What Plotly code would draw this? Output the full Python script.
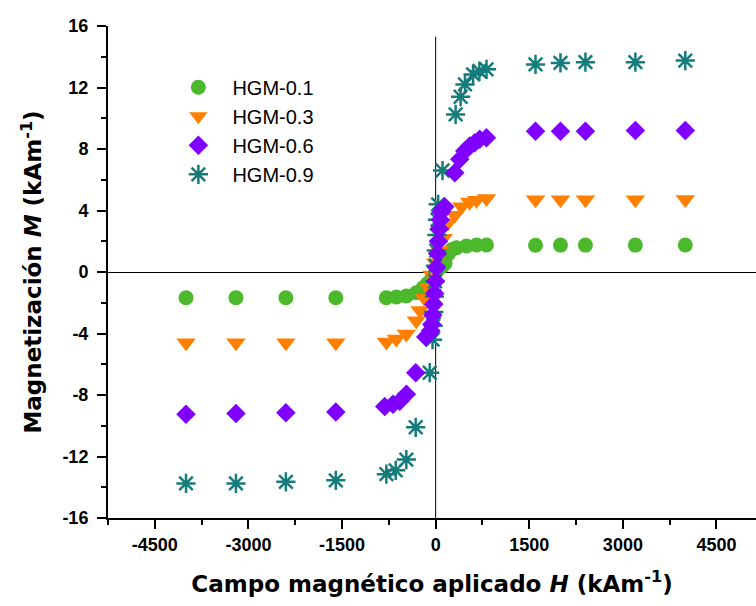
import plotly.graph_objects as go

# Magnetization curves M(H) of the HGM samples (H and M in kA/m)
h_01 = [-4000, -3200, -2400, -1600, -790, -630, -470, -310, -200, -130, -60, 0, 60, 110,
        150, 200, 255, 335, 495, 655, 815, 1600, 2000, 2400, 3200, 4000]
m_01 = [-1.67, -1.67, -1.67, -1.67, -1.67, -1.63, -1.56, -1.35, -1.02, -0.75, -0.4, -0.05, 0.25, 0.4,
        0.55, 1.15, 1.45, 1.58, 1.69, 1.76, 1.76, 1.74, 1.75, 1.75, 1.75, 1.76]

h_03 = [-4000, -3200, -2400, -1600, -790, -630, -470, -310, -250, -180, -120, -60, 0, 60,
        120, 200, 305, 415, 545, 655, 815, 1600, 2000, 2400, 3200, 4000]
m_03 = [-4.6, -4.6, -4.6, -4.6, -4.55, -4.36, -4.04, -3.17, -2.5, -1.7, -1.0, -0.2, 0.6, 1.4,
        2.2, 3.2, 3.69, 4.24, 4.56, 4.67, 4.78, 4.7, 4.7, 4.7, 4.7, 4.71]

h_06 = [-4000, -3200, -2400, -1600, -816, -683, -575, -468, -319, -159,
        -100, -80, -60, -45, -30, -15, 0, 15, 30, 45, 60, 75, 90, 110,
        146, 306, 386, 466, 546, 626, 706, 814, 1600, 2000, 2400, 3200, 4000]
m_06 = [-9.25, -9.2, -9.15, -9.1, -8.75, -8.6, -8.4, -7.95, -6.55, -4.23,
        -4.0, -3.8, -3.4, -2.8, -2.1, -1.4, -0.6, 0.3, 1.2, 2.0, 2.8, 3.4, 3.9, 4.1,
        4.25, 6.46, 7.33, 7.87, 8.2, 8.41, 8.63, 8.73, 9.15, 9.15, 9.15, 9.2, 9.2]

h_09 = [-4000, -3200, -2400, -1600, -790, -640, -470, -320, -95,
        -50, -40, -30, -20, -10, 0, 10, 20, 30, 40,
        110, 320, 400, 470, 600, 700, 815, 1600, 2000, 2400, 3200, 4000]
m_09 = [-13.75, -13.75, -13.65, -13.55, -13.15, -12.9, -12.2, -10.1, -6.55,
        -4.4, -3.5, -2.6, -1.6, -0.6, 0.4, 1.4, 2.4, 3.4, 4.4,
        6.6, 10.25, 11.4, 12.2, 12.85, 13.07, 13.18, 13.5, 13.6, 13.65, 13.65, 13.75]

x_ticks = [-4500, -3000, -1500, 0, 1500, 3000, 4500]
y_ticks = [-16, -12, -8, -4, 0, 4, 8, 12, 16]

series = [
    # name, H, M, symbol, colour, size, legend rank
    ("HGM-0.1", h_01, m_01, "circle", "#4cb82c", 15, 1),
    ("HGM-0.3", h_03, m_03, "triangle-down", "#ff8000", 17, 2),
    ("HGM-0.9", h_09, m_09, "asterisk-open", "#167b7b", 16, 4),
    ("HGM-0.6", h_06, m_06, "diamond", "#7f00ff", 15, 3),
]

fig = go.Figure()
for name, h, m, sym, col, size, rank in series:
    marker = dict(symbol=sym, size=size, color=col)
    if sym.endswith("open"):
        marker["line"] = dict(color=col, width=2.5)
    else:
        marker["line"] = dict(width=0)
    fig.add_trace(go.Scatter(x=h, y=m, mode="markers", name=name,
                             marker=marker, legendrank=rank))

# vertical reference line through H = 0
fig.add_shape(type="line", xref="x", yref="y", x0=0, x1=0, y0=-16, y1=15.3,
              line=dict(color="black", width=1), layer="below")

tick_font = dict(family="Liberation Sans, Arial, sans-serif", size=18, color="black", weight="bold")
title_font = dict(family="DejaVu Sans, Verdana, sans-serif", size=23, color="black", weight="bold")

fig.update_layout(
    width=756, height=606,
    margin=dict(l=108, r=0, t=26, b=88),
    paper_bgcolor="white", plot_bgcolor="white",
    showlegend=True,
    legend=dict(x=0.087, y=0.915, xanchor="left", yanchor="top",
                bgcolor="rgba(0,0,0,0)", borderwidth=0, itemwidth=58,
                font=dict(family="Liberation Sans, Arial, sans-serif", size=20, color="black")),
    xaxis=dict(
        range=[-5250, 5133], tickvals=x_ticks, ticktext=[str(v) for v in x_ticks],
        ticks="outside", ticklen=9, tickwidth=1.5, tickcolor="black",
        minor=dict(dtick=750, tick0=0, ticks="outside", ticklen=5, tickwidth=1.5, tickcolor="black"),
        showline=True, linewidth=2, linecolor="black", mirror=False,
        showgrid=False, zeroline=False,
        tickfont=tick_font,
        title=dict(text="Campo magnético aplicado <i>H</i> (kAm<sup>-1</sup>)", font=title_font, standoff=22),
    ),
    yaxis=dict(
        range=[-16, 16], tickvals=y_ticks, ticktext=[str(v) for v in y_ticks],
        ticks="outside", ticklen=9, tickwidth=1.5, tickcolor="black",
        minor=dict(dtick=2, tick0=0, ticks="outside", ticklen=5, tickwidth=1.5, tickcolor="black"),
        showline=True, linewidth=2, linecolor="black", mirror=False,
        showgrid=False, zeroline=True, zerolinecolor="black", zerolinewidth=1,
        tickfont=tick_font, ticklabelstandoff=5,
        title=dict(text="Magnetización <i>M</i> (kAm<sup>-1</sup>)", font=title_font, standoff=14),
    ),
)

fig.write_html("out.html")
